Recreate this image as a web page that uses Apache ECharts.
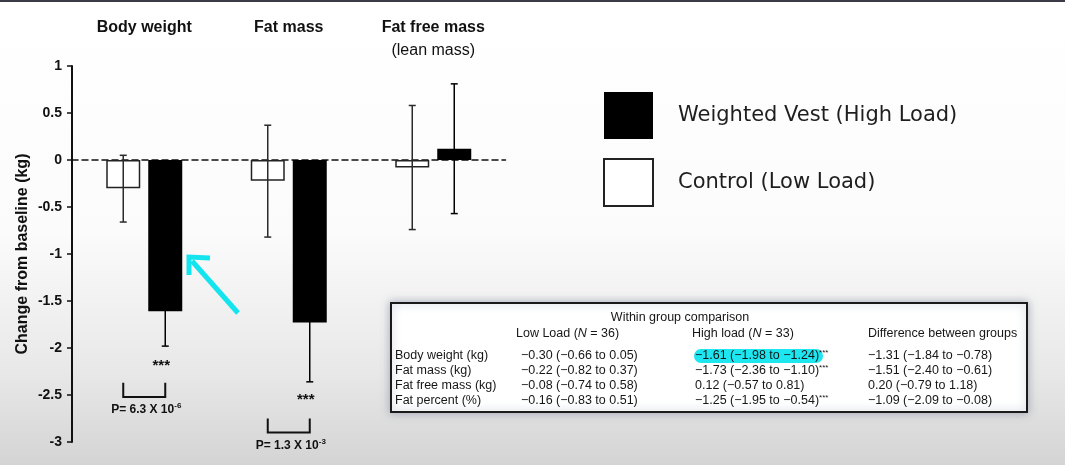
<!DOCTYPE html>
<html>
<head>
<meta charset="utf-8">
<script src="https://cdn.jsdelivr.net/npm/echarts@6/dist/echarts.min.js"></script>
<style>
  html, body { margin: 0; padding: 0; }
  #chart { width: 1065px; height: 465px; }
</style>
</head>
<body>
<div id="chart"></div>
<script>
const categories = ['Body weight', 'Fat mass', 'Fat free mass\n(lean mass)'];
const controlMean = [-0.30, -0.22, -0.08];
const controlLow = [-0.66, -0.82, -0.74];
const controlHigh = [0.05, 0.37, 0.58];
const vestMean = [-1.61, -1.73, 0.12];
const vestLow = [-1.98, -2.36, -0.57];
const vestHigh = [-1.24, -1.10, 0.81];

// significance marks: group index, stars y, bracket top/bottom y, p label y
const sigGroup = [0, 1];
const sigStarY = [-2.16, -2.52];
const sigBracketTop = [-2.37, -2.75];
const sigBracketBottom = [-2.52, -2.90];
const sigLabelY = [-2.66, -3.04];
const sigP = ['6.3 X 10', '1.3 X 10'];
const sigExp = ['-6', '-3'];

// table overlay
const tableRows = ['Body weight (kg)', 'Fat mass (kg)', 'Fat free mass (kg)', 'Fat percent (%)'];
const tableLow = ['−0.30 (−0.66 to 0.05)', '−0.22 (−0.82 to 0.37)', '−0.08 (−0.74 to 0.58)', '−0.16 (−0.83 to 0.51)'];
const tableHigh = ['−1.61 (−1.98 to −1.24)', '−1.73 (−2.36 to −1.10)', '0.12 (−0.57 to 0.81)', '−1.25 (−1.95 to −0.54)'];
const tableHighSig = [true, true, false, true];
const tableDiff = ['−1.31 (−1.84 to −0.78)', '−1.51 (−2.40 to −0.61)', '0.20 (−0.79 to 1.18)', '−1.09 (−2.09 to −0.08)'];

const BAR_W = 34;
const BAR_GAP = 8;
const OFFSET = (BAR_W + BAR_GAP) / 2;
const SANS = 'Liberation Sans, Arial, sans-serif';

function errorBar(offset, color) {
  return function (params, api) {
    const idx = api.value(0);
    const x = api.coord([idx, 0])[0] + offset;
    const y1 = api.coord([idx, api.value(1)])[1];
    const y2 = api.coord([idx, api.value(2)])[1];
    const st = { stroke: color, lineWidth: 1.5 };
    return {
      type: 'group',
      children: [
        { type: 'line', shape: { x1: x, y1: y1, x2: x, y2: y2 }, style: st },
        { type: 'line', shape: { x1: x - 3.5, y1: y1, x2: x + 3.5, y2: y1 }, style: st },
        { type: 'line', shape: { x1: x - 3.5, y1: y2, x2: x + 3.5, y2: y2 }, style: st },
      ],
    };
  };
}

function sigMarks(params, api) {
  const i = params.dataIndex;
  const idx = api.value(0);
  const cx = api.coord([idx, 0])[0];
  const xl = cx - OFFSET;
  const xr = cx + OFFSET;
  const yStar = api.coord([idx, api.value(1)])[1];
  const yTop = api.coord([idx, api.value(2)])[1];
  const yBot = api.coord([idx, api.value(3)])[1];
  const yLab = api.coord([idx, api.value(4)])[1];
  return {
    type: 'group',
    children: [
      {
        type: 'text',
        style: {
          text: '***', x: xr - 4, y: yStar + 3, align: 'center', verticalAlign: 'middle',
          fontSize: 15, fontWeight: 'bold', fontFamily: SANS, fill: '#111',
        },
      },
      {
        type: 'polyline',
        shape: { points: [[xl, yTop], [xl, yBot], [xr, yBot], [xr, yTop]] },
        style: { stroke: '#111', lineWidth: 2, fill: null },
      },
      {
        type: 'text',
        style: {
          text: 'P= ' + sigP[i] + '{sup|' + sigExp[i] + '}',
          x: cx + 2, y: yLab, align: 'center', verticalAlign: 'middle',
          fontSize: 12, fontWeight: 'bold', fontFamily: SANS, fill: '#111', lineHeight: 16,
          rich: {
            sup: { fontSize: 8, fontWeight: 'bold', fontFamily: SANS, fill: '#111', verticalAlign: 'top', lineHeight: 9 },
          },
        },
      },
    ],
  };
}

function cell(text, x, y, extra) {
  return {
    type: 'text',
    style: Object.assign({
      text: text, x: x, y: y, verticalAlign: 'middle', fill: '#161616',
      fontSize: 12.5, fontFamily: SANS,
      rich: {
        it: { fontSize: 12.5, fontFamily: SANS, fontStyle: 'italic', fill: '#161616' },
        sup: { fontSize: 8, fontFamily: SANS, fill: '#161616', verticalAlign: 'top', lineHeight: 9 },
      },
    }, extra || {}),
    z: 20,
  };
}

const rowY = [356, 371, 386, 401];
const tableCells = [
  cell('Within group comparison', 680, 318, { align: 'center' }),
  cell('Low Load ({it|N} = 36)', 516, 334),
  cell('High load ({it|N} = 33)', 692, 334),
  cell('Difference between groups', 868, 334),
];
tableRows.forEach((name, i) => {
  tableCells.push(cell(name, 395, rowY[i]));
  tableCells.push(cell(tableLow[i], 521, rowY[i]));
  tableCells.push(cell(tableHigh[i] + (tableHighSig[i] ? '{sup|***}' : ''), 695, rowY[i], { lineHeight: 14 }));
  tableCells.push(cell(tableDiff[i], 868, rowY[i]));
});

const option = {
  backgroundColor: new echarts.graphic.LinearGradient(0, 0, 0, 1, [
    { offset: 0, color: '#ffffff' },
    { offset: 0.5, color: '#fbfbfb' },
    { offset: 0.8, color: '#e8e8e8' },
    { offset: 1, color: '#d4d4d4' },
  ]),
  animation: false,
  grid: { left: 72, right: 559.5, top: 66, bottom: 23 },
  legend: {
    data: ['Weighted Vest (High Load)', 'Control (Low Load)'],
    orient: 'vertical',
    left: 603,
    top: 92,
    padding: 0,
    itemWidth: 49,
    itemHeight: 47,
    itemGap: 19,
    icon: 'rect',
    selectedMode: false,
    textStyle: { fontFamily: 'DejaVu Sans', fontSize: 21, color: '#1e1e1e', padding: [0, 0, 0, 20] },
  },
  xAxis: [
    {
      type: 'category',
      data: categories,
      axisLine: { onZero: true, lineStyle: { color: '#111', width: 1.5, type: [6, 4] } },
      axisTick: { show: false },
      axisLabel: { show: false },
    },
    {
      type: 'category',
      data: categories,
      position: 'top',
      axisLine: { show: false, onZero: false },
      axisTick: { show: false },
      axisLabel: {
        margin: 51,
        verticalAlign: 'top',
        formatter: (v) => {
          const parts = v.split('\n');
          return '{b|' + parts[0] + '}' + (parts[1] ? '\n{r|' + parts[1] + '}' : '');
        },
        rich: {
          b: { fontSize: 16, fontWeight: 'bold', fontFamily: SANS, color: '#111', lineHeight: 25 },
          r: { fontSize: 16, fontFamily: SANS, color: '#111', lineHeight: 22 },
        },
      },
    },
  ],
  yAxis: {
    type: 'value',
    min: -3,
    max: 1,
    interval: 0.5,
    name: 'Change from baseline (kg)',
    nameLocation: 'middle',
    nameGap: 41,
    nameTextStyle: { fontSize: 16, fontWeight: 'bold', fontFamily: SANS, color: '#111' },
    axisLine: { show: true, lineStyle: { color: '#111', width: 2 } },
    axisTick: { show: true, length: 5, lineStyle: { color: '#111', width: 1.5 } },
    axisLabel: { margin: 10, fontSize: 14, fontWeight: 'bold', fontFamily: SANS, color: '#111' },
    splitLine: { show: false },
  },
  series: [
    {
      name: 'Control (Low Load)',
      type: 'bar',
      barWidth: BAR_W,
      barGap: (BAR_GAP / BAR_W * 100) + '%',
      itemStyle: { color: '#ffffff', borderColor: '#222', borderWidth: 1.5 },
      data: controlMean,
    },
    {
      name: 'Weighted Vest (High Load)',
      type: 'bar',
      barWidth: BAR_W,
      itemStyle: { color: '#000000' },
      data: vestMean,
    },
    {
      type: 'custom',
      renderItem: errorBar(-OFFSET, '#2a2a2a'),
      encode: { x: 0, y: [1, 2] },
      z: 5,
      data: controlMean.map((_, i) => [i, controlLow[i], controlHigh[i]]),
    },
    {
      type: 'custom',
      renderItem: errorBar(OFFSET, '#000000'),
      encode: { x: 0, y: [1, 2] },
      z: 5,
      data: vestMean.map((_, i) => [i, vestLow[i], vestHigh[i]]),
    },
    {
      type: 'custom',
      renderItem: sigMarks,
      encode: { x: 0, y: 1 },
      clip: false,
      z: 5,
      data: sigGroup.map((g, i) => [g, sigStarY[i], sigBracketTop[i], sigBracketBottom[i], sigLabelY[i]]),
    },
  ],
  graphic: [
    { type: 'rect', shape: { x: 0, y: 0, width: 1065, height: 2 }, style: { fill: '#3c3c48' } },
    // cyan arrow pointing at the vest bar
    {
      type: 'group',
      z: 30,
      children: [
        { type: 'line', shape: { x1: 238, y1: 313, x2: 192, y2: 261 }, style: { stroke: '#14e4ee', lineWidth: 5 } },
        { type: 'polyline', shape: { points: [[210, 258], [189, 257], [189, 275]] }, style: { stroke: '#14e4ee', lineWidth: 5, fill: null } },
      ],
    },
    {
      type: 'group',
      z: 20,
      children: [
        {
          type: 'rect',
          shape: { x: 391, y: 303, width: 636, height: 109 },
          style: { fill: '#ffffff', stroke: '#1a1a1a', lineWidth: 2, shadowBlur: 8, shadowColor: 'rgba(110,120,150,0.55)' },
        },
        { type: 'rect', shape: { x: 694, y: 349, width: 129, height: 14, r: 7 }, style: { fill: '#1ee6f0' } },
      ].concat(tableCells),
    },
  ],
};

const chart = echarts.init(document.getElementById('chart'));
chart.setOption(option);
</script>
</body>
</html>
